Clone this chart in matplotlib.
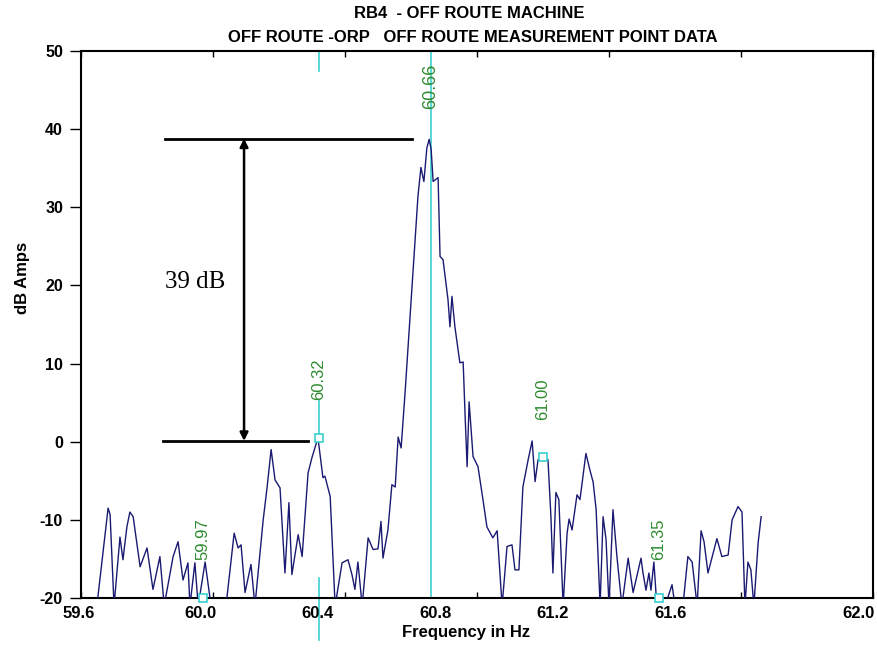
import numpy as np
import matplotlib
matplotlib.use("Agg")
import matplotlib.pyplot as plt
from matplotlib.transforms import blended_transform_factory

# spectrum trace (Hz, dB); -21 means "below the floor"
freq = [59.648, 59.682, 59.688, 59.700, 59.718, 59.727, 59.739, 59.748, 59.758, 59.779,
        59.800, 59.818, 59.839, 59.852, 59.879, 59.894, 59.909, 59.924, 59.930, 59.945,
        59.955, 59.976, 59.994, 60.021, 60.042, 60.064, 60.076, 60.085, 60.097, 60.115,
        60.127, 60.152, 60.164, 60.176, 60.188, 60.203, 60.218, 60.230, 60.239, 60.258,
        60.270, 60.288, 60.300, 60.318, 60.333, 60.339, 60.355, 60.370, 60.391, 60.409,
        60.421, 60.430, 60.439, 60.452, 60.470, 60.485, 60.500, 60.509, 60.515, 60.530,
        60.542, 60.552, 60.561, 60.570, 60.582, 60.597, 60.612, 60.621, 60.630, 60.639,
        60.648, 60.655, 60.661, 60.667, 60.682, 60.688, 60.697, 60.712, 60.718, 60.724,
        60.733, 60.748, 60.758, 60.764, 60.770, 60.776, 60.788, 60.803, 60.818, 60.830,
        60.848, 60.861, 60.876, 60.891, 60.906, 60.915, 60.927, 60.939, 60.955, 60.967,
        60.976, 60.985, 61.000, 61.015, 61.024, 61.030, 61.039, 61.048, 61.061, 61.073,
        61.079, 61.088, 61.103, 61.112, 61.130, 61.142, 61.152, 61.161, 61.173, 61.182,
        61.191, 61.200, 61.212, 61.224, 61.239, 61.258, 61.273, 61.297, 61.303, 61.312,
        61.321, 61.327, 61.336, 61.345, 61.370, 61.391, 61.400, 61.424, 61.439, 61.452,
        61.467, 61.479, 61.488, 61.500, 61.527, 61.542, 61.561, 61.573, 61.591, 61.603,
        61.612, 61.621, 61.630, 61.639, 61.652, 61.661]
amp_db = [-21, -8.5, -9.3, -21, -12.2, -15.1, -10.9, -9.0, -9.6, -16.0,
          -13.6, -18.9, -14.7, -21, -14.7, -12.8, -17.7, -15.5, -21, -15.5,
          -21, -15.4, -21, -21, -20, -11.7, -13.6, -13.2, -19.3, -15.7,
          -21, -10.0, -5.8, -1.0, -4.9, -5.9, -16.8, -7.8, -17.0, -11.9,
          -14.7, -4.0, -2.0, 0.5, -4.6, -4.4, -7.0, -21, -15.5, -15.1,
          -17.0, -18.9, -15.4, -21, -12.3, -13.8, -13.7, -10.2, -14.9, -11.3,
          -5.5, -5.8, 0.6, -0.8, 6.3, 16.0, 25.5, 31.4, 35.1, 33.3,
          37.6, 38.7, 37.4, 33.3, 33.8, 23.7, 23.3, 18.2, 14.7, 18.6,
          14.7, 10.1, 10.2, 3.2, -3.2, 5.1, -1.9, -3.2, -7.4, -10.9,
          -12.3, -11.4, -21, -13.4, -13.2, -16.4, -16.4, -5.8, -2.3, 0.1,
          -5.1, -2.3, -1.9, -2.3, -9.6, -16.8, -6.5, -7.4, -21, -11.7,
          -9.9, -11.3, -6.8, -7.4, -1.5, -3.6, -5.2, -8.7, -21, -9.6,
          -12.5, -21, -8.7, -14.7, -21, -14.9, -19.3, -14.9, -16.8, -19,
          -16.8, -19, -15.4, -21, -21, -18.3, -21, -21, -14.7, -15.4,
          -21, -11.4, -12.8, -16.8, -12.4, -14.7, -14.5, -10.0, -8.3, -9.0,
          -21, -15.4, -16.4, -21, -12.9, -9.6]

# cursor markers
mark_freq = [59.97, 60.32, 60.66, 61.00, 61.35]
mark_text = ["59.97", "60.32", "60.66", "61.00", "61.35"]
mark_amp = [-20, 0.5, 38.7, -1.9, -20]
mark_label_y = [-15.1, 5.4, 42.6, 2.8, -15.1]

xticks = [59.6, 60.0, 60.4, 60.8, 61.2, 61.6, 62.0]
xtick_text = ["59.6", "60.0", "60.4", "60.8", "61.2", "61.6", "62.0"]
# the labels sit slightly off their ticks in the original
xtick_text_pos = [59.594, 59.961, 60.318, 60.673, 61.030, 61.388, 61.955]
yticks = [-20, -10, 0, 10, 20, 30, 40, 50]

peak_db = 38.8
floor_db = 0.1

navy = "#1a1a72"
cyan = "#3cd0d0"
green = "#2e8b2e"
bold_font = "Liberation Sans"

fig = plt.figure(figsize=(8.78, 6.64), dpi=100)
ax = fig.add_axes([0.0923, 0.0994, 0.9020, 0.8238])

ax.set_xlim(59.6, 62.0)
ax.set_ylim(-20, 50)

ax.plot(freq, amp_db, color=navy, lw=1.0, zorder=3)

# cursors
ax.axvline(60.66, color=cyan, lw=1.2, zorder=2)
ax.plot([60.32, 60.32], [50, 47.5], color=cyan, lw=1.2)
ax.plot([60.32, 60.32], [5.4, 0.9], color=cyan, lw=1.2)
ax.plot([60.32, 60.32], [-17.4, -25.4], color=cyan, lw=1.2, clip_on=False)

sq = [i for i in range(len(mark_freq)) if mark_text[i] != "60.66"]
ax.plot([mark_freq[i] for i in sq], [mark_amp[i] for i in sq], ls="none",
        marker="s", ms=6, mfc="white", mec=cyan, mew=1.2, clip_on=False, zorder=4)

for f, t, ly in zip(mark_freq, mark_text, mark_label_y):
    fs = 13 if t == "60.66" else 12
    ax.text(f, ly, t, rotation=90, ha="center", va="bottom", color=green,
            fontsize=fs, family="Liberation Sans", zorder=5)

# 39 dB annotation
ax.plot([59.855, 60.603], [peak_db, peak_db], color="black", lw=2)
ax.plot([59.848, 60.288], [floor_db, floor_db], color="black", lw=2)
ax.annotate("", xy=(60.094, peak_db), xytext=(60.094, floor_db),
            arrowprops=dict(arrowstyle="<|-|>", color="black", lw=1.8,
                            mutation_scale=12, shrinkA=0, shrinkB=0))
ax.text(59.855, 20.4, "%d dB" % round(peak_db - floor_db), fontsize=18,
        family="Liberation Serif", va="center", ha="left")

# axes styling
for s in ax.spines.values():
    s.set_linewidth(1.5)
    s.set_color("black")

ax.set_xticks(xticks)
ax.set_xticklabels([])
ax.tick_params(axis="x", direction="in", length=4, width=1, top=True, bottom=True)
ax.set_yticks(yticks)
ax.set_yticklabels([str(v) for v in yticks], fontweight="bold", fontsize=11.5,
                   family=bold_font)
ax.tick_params(axis="y", direction="out", length=8, width=1, pad=5, right=False)

trans = blended_transform_factory(ax.transData, ax.transAxes)
for p, t in zip(xtick_text_pos, xtick_text):
    ax.text(p, -0.015, t, transform=trans, ha="center", va="top",
            fontweight="bold", fontsize=12, family=bold_font)

ax.set_ylabel("dB Amps", fontweight="bold", fontsize=12, family=bold_font)
ax.yaxis.set_label_coords(-0.064, 0.585)

fig.text(0.531, 0.0478, "Frequency in Hz", ha="center", va="center",
         fontweight="bold", fontsize=12, family=bold_font)
fig.text(0.534, 0.980, "RB4  - OFF ROUTE MACHINE", ha="center", va="center",
         fontweight="bold", fontsize=12, family=bold_font)
fig.text(0.539, 0.943, "OFF ROUTE -ORP   OFF ROUTE MEASUREMENT POINT DATA",
         ha="center", va="center", fontweight="bold", fontsize=12, family=bold_font)

fig.savefig("out.png", dpi=100)
